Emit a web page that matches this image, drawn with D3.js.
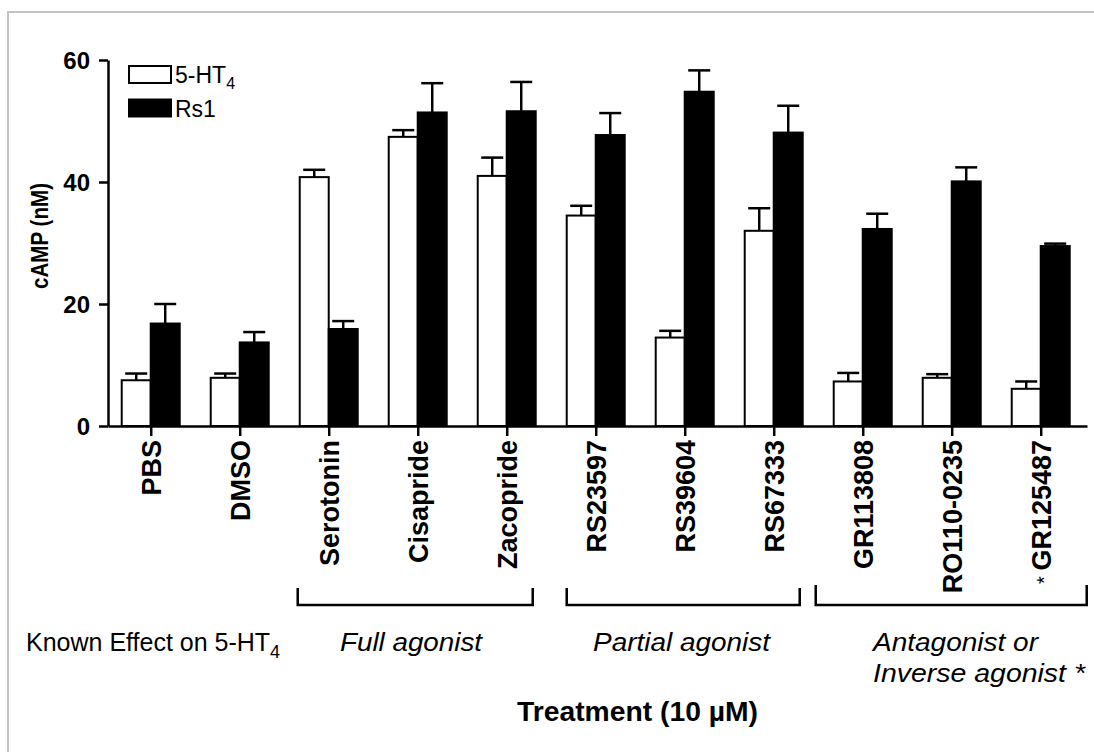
<!DOCTYPE html>
<html>
<head>
<meta charset="utf-8">
<script src="https://cdn.jsdelivr.net/npm/d3@7"></script>
<style>
  body { margin: 0; background: #fff; }
  svg { display: block; font-family: "Liberation Sans", Arial, sans-serif; }
</style>
</head>
<body>
<div id="chart"></div>
<script>
// cAMP by treatment, 5-HT4 vs Rs1
const categories = ["PBS", "DMSO", "Serotonin", "Cisapride", "Zacopride", "RS23597",
  "RS39604", "RS67333", "GR113808", "RO110-0235", "GR125487"];
const starred = ["GR125487"];
const series = ["5-HT4", "Rs1"];
const ht4 = [7.5, 7.9, 40.8, 47.4, 41.0, 34.5, 14.5, 32.0, 7.3, 7.9, 6.1];
const ht4Err = [1.1, 0.7, 1.2, 1.1, 3.0, 1.6, 1.1, 3.7, 1.4, 0.6, 1.2];
const rs1 = [16.8, 13.7, 15.9, 51.4, 51.6, 47.7, 54.8, 48.1, 32.3, 40.1, 29.5];
const rs1Err = [3.2, 1.7, 1.3, 4.8, 4.8, 3.6, 3.5, 4.4, 2.5, 2.3, 0.4];
const yTicks = [0, 20, 40, 60];
const groups = [
  {from: "Serotonin", to: "Zacopride", lines: ["Full agonist"]},
  {from: "RS23597", to: "RS67333", lines: ["Partial agonist"]},
  {from: "GR113808", to: "GR125487", lines: ["Antagonist or", "Inverse agonist *"]}
];

const W = 1094, H = 752;
const svg = d3.select("#chart").append("svg").attr("width", W).attr("height", H);

// light frame round the figure
svg.append("rect").attr("x", 8).attr("y", 12).attr("width", W + 20).attr("height", H + 20)
  .attr("fill", "none").attr("stroke", "#c4c4c4").attr("stroke-width", 2);

const x = d3.scalePoint().domain(categories).range([108, 1087]).padding(0.5).align(0.48);
const sub = d3.scaleBand().domain(series).range([-29, 29]);
const y = d3.scaleLinear().domain([0, 60]).range([426, 60]);

const rows = categories.map((c, i) => [
  {cat: c, s: series[0], v: ht4[i], e: ht4Err[i]},
  {cat: c, s: series[1], v: rs1[i], e: rs1Err[i]}
]).flat();

// bars
svg.append("g").selectAll("rect").data(rows).join("rect")
  .attr("x", d => x(d.cat) + sub(d.s)).attr("y", d => y(d.v))
  .attr("width", sub.bandwidth()).attr("height", d => y(0) - y(d.v))
  .attr("fill", d => d.s === "Rs1" ? "#000" : "#fff")
  .attr("stroke", "#000").attr("stroke-width", 2);

// error bars (upper only)
const eb = svg.append("g").attr("stroke", "#000").attr("stroke-width", 2.5);
const cx = d => x(d.cat) + sub(d.s) + sub.bandwidth() / 2;
eb.selectAll("line.v").data(rows).join("line").attr("class", "v")
  .attr("x1", cx).attr("x2", cx)
  .attr("y1", d => y(d.v)).attr("y2", d => y(d.v + d.e));
eb.selectAll("line.c").data(rows).join("line").attr("class", "c")
  .attr("x1", d => cx(d) - 11).attr("x2", d => cx(d) + 11)
  .attr("y1", d => y(d.v + d.e)).attr("y2", d => y(d.v + d.e));

// axes
const yAxis = svg.append("g").attr("transform", "translate(108,0)")
  .call(d3.axisLeft(y).tickValues(yTicks).tickSize(9).tickSizeOuter(0).tickPadding(9));
yAxis.selectAll("path, line").attr("stroke", "#000").attr("stroke-width", 2.5);
yAxis.selectAll("text").style("font-size", "24px").style("font-weight", "bold")
  .attr("fill", "#000").attr("dy", "0.36em");

const xAxis = svg.append("g").attr("transform", `translate(0,${y(0)})`)
  .call(d3.axisBottom(x).tickSize(10).tickSizeOuter(0));
xAxis.selectAll("path, line").attr("stroke", "#000").attr("stroke-width", 2.5);
xAxis.selectAll("text").text(null).style("font-size", "27px").style("font-weight", "bold")
  .attr("fill", "#000").attr("transform", "rotate(-90)")
  .attr("x", -14).attr("y", 0).attr("dy", "0.36em").style("text-anchor", "end")
  .each(function(d) {
    const t = d3.select(this);
    if (starred.includes(d)) {
      t.append("tspan").style("font-weight", "normal").style("font-size", "20px").text("*  ");
    }
    t.append("tspan").text(d);
  });

// y title
svg.append("text").attr("transform", "translate(48,236) rotate(-90)")
  .attr("text-anchor", "middle").style("font-size", "23px").style("font-weight", "bold")
  .attr("textLength", 106).attr("lengthAdjust", "spacingAndGlyphs").text("cAMP (nM)");

// legend
const lg = svg.append("g").attr("transform", "translate(129,66)");
series.forEach((s, i) => {
  lg.append("rect").attr("x", 0).attr("y", i * 33.5).attr("width", 42).attr("height", 17)
    .attr("fill", s === "Rs1" ? "#000" : "#fff").attr("stroke", "#000").attr("stroke-width", 2);
});
const l1 = lg.append("text").attr("x", 46).attr("y", 17).style("font-size", "23px");
l1.append("tspan").text("5-HT");
l1.append("tspan").attr("dy", 6).style("font-size", "16px").text("4");
lg.append("text").attr("x", 46).attr("y", 50.5).style("font-size", "23px").text("Rs1");

// group brackets
const padL = [31, 29, 47], padR = [26, 26, 46];
const br = svg.append("g").attr("fill", "none").attr("stroke", "#000").attr("stroke-width", 2.5);
groups.forEach((g, i) => {
  const x0 = x(g.from) - padL[i], x1 = x(g.to) + padR[i], top = i === 2 ? 585 : 588;
  br.append("path").attr("d", `M${x0},${top}V605H${x1}V${top}`);
});

// row of known effects
const eff = svg.append("g").style("font-size", "26px");
const k = eff.append("text").attr("x", 26).attr("y", 651).style("font-size", "25px");
k.append("tspan").text("Known Effect on 5-HT");
k.append("tspan").attr("dy", 7).style("font-size", "18px").text("4");
const effX = [340, 593, 873], effW = [[142], [177], [165, 212]];
groups.forEach((g, i) => {
  g.lines.forEach((ln, j) => {
    eff.append("text").attr("x", effX[i]).attr("y", 651 + j * 31)
      .style("font-style", "italic").attr("textLength", effW[i][j])
      .attr("lengthAdjust", "spacingAndGlyphs").text(ln);
  });
});

// x title
svg.append("text").attr("x", 517).attr("y", 721).style("font-size", "28px")
  .style("font-weight", "bold").attr("textLength", 241).attr("lengthAdjust", "spacingAndGlyphs")
  .text("Treatment (10 µM)");
</script>
</body>
</html>
